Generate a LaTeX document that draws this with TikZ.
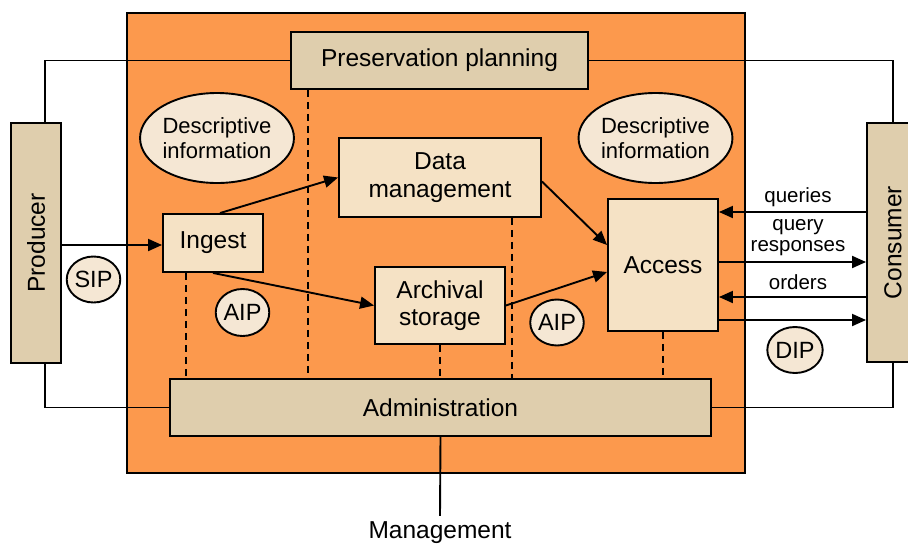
\documentclass[tikz,border=0pt]{standalone}
\usepackage{fontspec}
\setmainfont{Liberation Sans}
\usetikzlibrary{arrows.meta,shapes.geometric}

\definecolor{archorange}{HTML}{FC994D}
\definecolor{boxlight}{HTML}{F5E2C5}
\definecolor{boxtan}{HTML}{DFCEAD}
\definecolor{bubble}{HTML}{F5E7D4}

\tikzset{
  edge/.style={line width=1.9pt},
  arr/.style={line width=1.9pt,-{Triangle[length=14pt,width=12pt]}},
  dashln/.style={line width=1.9pt,dash pattern=on 7pt off 5pt},
  entity/.style={draw,line width=1.9pt,fill=boxlight,inner sep=0pt,align=center,
    font=\fontsize{24.5}{27.5}\selectfont},
  outer/.style={draw,line width=1.9pt,fill=boxtan,inner sep=0pt,align=center,
    font=\fontsize{24.5}{27.5}\selectfont},
  infobub/.style={draw,ellipse,line width=1.9pt,fill=bubble,inner sep=0pt,align=center,
    minimum width=148pt,minimum height=90pt,font=\fontsize{22}{24.5}\selectfont},
  pkg/.style={draw,ellipse,line width=1.9pt,fill=bubble,inner sep=0pt,
    minimum width=51pt,minimum height=46pt,font=\fontsize{23.5}{25}\selectfont},
  lbl/.style={inner sep=0pt,align=center,font=\fontsize{20.5}{21}\selectfont},
}

\begin{document}
\begin{tikzpicture}[x=1pt,y=-1pt]
\useasboundingbox (0,0) rectangle (908,544);

% archive boundary
\draw[line width=1.9pt,fill=archorange] (127,13) rectangle (745,473);

% functional entities
\node[outer,minimum width=297pt,minimum height=57pt] (pp) at (439.5,60.5) {Preservation planning};
\node[outer,minimum width=541pt,minimum height=57pt] (adm) at (440.5,407.5) {Administration};
\node[entity,minimum width=100pt,minimum height=58pt] (ing) at (213,243) {Ingest};
\node[entity,minimum width=202pt,minimum height=79pt] (dm) at (440,177.5) {Data\\management};
\node[entity,minimum width=130pt,minimum height=77pt] (arch) at (440,305.5) {Archival\\storage};
\node[entity,minimum width=110pt,minimum height=132pt] (acc) at (663,265) {Access};

% external actors
\node[outer,minimum width=240pt,minimum height=50pt,rotate=90] (prod) at (36,243) {Producer};
\node[outer,minimum width=239pt,minimum height=52pt,rotate=90] (cons) at (893,242.5) {Consumer};

% descriptive information
\node[infobub] (dil) at (217,138) {Descriptive\\information};
\node[infobub,minimum width=147pt] (dir) at (655.5,138) {Descriptive\\information};

% information packages
\node[pkg] (sip) at (93.5,279.5) {SIP};
\node[pkg,minimum height=47pt] (aip1) at (242.5,312.5) {AIP};
\node[pkg] (aip2) at (557,322.5) {AIP};
\node[pkg] (dip) at (795,350) {DIP};

% management
\node[inner sep=6pt,font=\fontsize{24.5}{27.5}\selectfont] (mg) at (440,533) {Management};
\draw[edge] (adm.south) -- (mg.north);

% links of the actors to planning and administration
\draw[edge] (prod.east -| 45,0) |- (pp.west);
\draw[edge] (cons.east -| 893,0) |- (pp.east);
\draw[edge] (prod.west -| 45,0) |- (adm.west);
\draw[edge] (cons.west -| 893,0) |- (adm.east);

% administration ties
\draw[dashln] (pp.south -| 308,0) -- (adm.north -| 308,0);
\draw[dashln] (ing.south -| 186,0) -- (adm.north -| 186,0);
\draw[dashln] (dm.south -| 512,0) -- (adm.north -| 512,0);
\draw[dashln] (arch.south) -- (arch.south |- adm.north);
\draw[dashln] (acc.south) -- (acc.south |- adm.north);

% data flows
\draw[arr] (prod.south |- 0,245) -- (ing.west |- 0,245);
\draw[arr] ([xshift=7pt]ing.north) -- (dm.west);
\draw[arr] (ing.south) -- (arch.west);
\draw[arr] ([yshift=-4pt]dm.east) -- ([yshift=20pt]acc.west);
\draw[arr] (arch.east) -- ([yshift=-7pt]acc.west);

% consumer exchanges
\draw[arr] (cons.north |- 0,212) -- (acc.east |- 0,212);
\draw[arr] (acc.east |- 0,262) -- (cons.north |- 0,262);
\draw[arr] (cons.north |- 0,297) -- (acc.east |- 0,297);
\draw[arr] (acc.east |- 0,320) -- (cons.north |- 0,320);

\node[lbl] (lq) at (798,197) {queries};
\node[lbl] (lr) at (798,238) {query\\responses};
\node[lbl] (lo) at (798,282) {orders};
\end{tikzpicture}
\end{document}
